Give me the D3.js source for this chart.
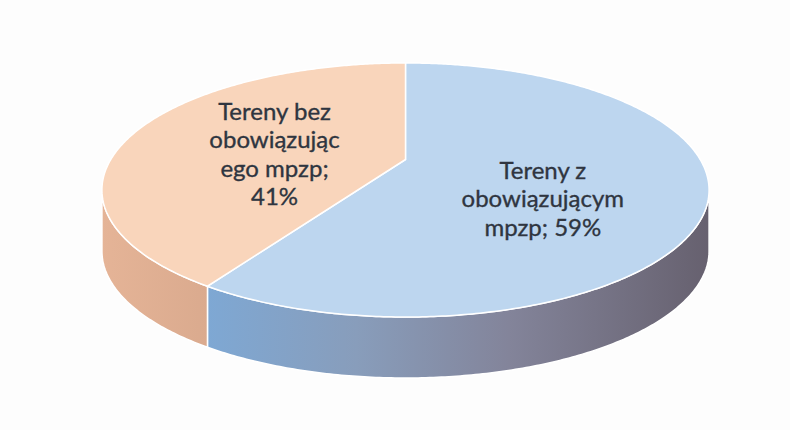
<!DOCTYPE html>
<html>
<head>
<meta charset="utf-8">
<script src="https://cdn.jsdelivr.net/npm/d3@7"></script>
<style>
  body { margin: 0; background: #fdfdfd; }
  svg { display: block; }
</style>
</head>
<body>
<script>
// slices, clockwise from 12 o'clock
var categories = ["Tereny z obowiązującym mpzp", "Tereny bez obowiązującego mpzp"];
var values = [59, 41];
// label text as it is wrapped in the chart
var labelLines = [
    ["Tereny z", "obowiązującym", "mpzp; 59%"],
    ["Tereny bez", "obowiązując", "ego mpzp;", "41%"]
];
var topColors = ["#bdd6ef", "#f9d5bb"];

var width = 790, height = 430;

// 3d look: tilted disc seen with a bit of perspective
var cx = 405.5, cy = 159.5, rx = 294.7, ry = 119.7, persp = 0.24, depth = 61;

function proj(a, f, dz) {
    var w = 1 + persp * f * Math.cos(a);
    return [cx + f * rx * Math.sin(a) / w, cy - f * ry * Math.cos(a) / w + (dz || 0)];
}

var svg = d3.select("body")
    .append("svg")
    .attr("width", width).attr("height", height);

var defs = svg.append("defs");
var sideBlue = defs.append("linearGradient")
    .attr("id", "sideBlue")
    .attr("gradientUnits", "userSpaceOnUse")
    .attr("x1", 205).attr("x2", 712).attr("y1", 0).attr("y2", 0);
sideBlue.selectAll("stop")
    .data([[0, "#7ea8d4"], [0.3, "#889dbb"], [0.6, "#83849a"], [1, "#66606e"]])
    .enter().append("stop")
    .attr("offset", function(d){ return d[0]; })
    .attr("stop-color", function(d){ return d[1]; });
var sideOrange = defs.append("linearGradient")
    .attr("id", "sideOrange")
    .attr("gradientUnits", "userSpaceOnUse")
    .attr("x1", 100).attr("x2", 210).attr("y1", 0).attr("y2", 0);
sideOrange.selectAll("stop")
    .data([[0, "#e5b497"], [1, "#daaa8e"]])
    .enter().append("stop")
    .attr("offset", function(d){ return d[0]; })
    .attr("stop-color", function(d){ return d[1]; });
var sideFills = ["url(#sideBlue)", "url(#sideOrange)"];

var pie = d3.pie().sort(null);
var arcs = pie(values);

// visible part of the outer wall, between the left and right silhouette points
var visA = Math.acos(-persp), visB = 2 * Math.PI - Math.acos(-persp);

function arcPoints(a0, a1, dz) {
    var n = Math.max(2, Math.ceil(Math.abs(a1 - a0) / 0.01));
    var pts = [];
    for (var i = 0; i <= n; i++) {
        pts.push(proj(a0 + (a1 - a0) * i / n, 1, dz));
    }
    return pts;
}

var line = d3.line();

// walls
svg.selectAll("path.side")
    .data(arcs)
    .enter()
    .append("path")
    .attr("class", "side")
    .attr("d", function(d){
        var a0 = Math.max(d.startAngle, visA), a1 = Math.min(d.endAngle, visB);
        if (a1 <= a0) return null;
        var pts = arcPoints(a0, a1, 0).concat(arcPoints(a1, a0, depth));
        return line(pts) + "Z";
    })
    .attr("fill", function(d, i){ return sideFills[i]; })
    .attr("stroke", "#ffffff").attr("stroke-width", 1.5);

// tops
svg.selectAll("path.top")
    .data(arcs)
    .enter()
    .append("path")
    .attr("class", "top")
    .attr("d", function(d){
        var pts = [proj(0, 0, 0)].concat(arcPoints(d.startAngle, d.endAngle, 0));
        return line(pts) + "Z";
    })
    .attr("fill", function(d, i){ return topColors[i]; })
    .attr("stroke", "#ffffff").attr("stroke-width", 1.5);

// labels
var nudge = [[0, 23], [-2, 10]];
var lineH = 28.5;
svg.selectAll("text.label")
    .data(arcs)
    .enter()
    .append("text")
    .attr("class", "label")
    .attr("font-family", "Lato, 'Open Sans', sans-serif")
    .attr("font-size", 24)
    .attr("fill", "#2f3540")
    .attr("stroke", "#2f3540").attr("stroke-width", 0.35)
    .attr("text-anchor", "middle")
    .each(function(d, i){
        var mid = (d.startAngle + d.endAngle) / 2;
        var p = proj(mid, 0.47, 0);
        var lines = labelLines[i];
        var y0 = p[1] + nudge[i][1] - (lines.length - 1) * lineH / 2;
        d3.select(this).selectAll("tspan")
            .data(lines)
            .enter()
            .append("tspan")
            .attr("x", p[0] + nudge[i][0])
            .attr("y", function(t, j){ return y0 + j * lineH; })
            .attr("dy", "0.35em")
            .text(function(t){ return t; });
    });
</script>
</body>
</html>
